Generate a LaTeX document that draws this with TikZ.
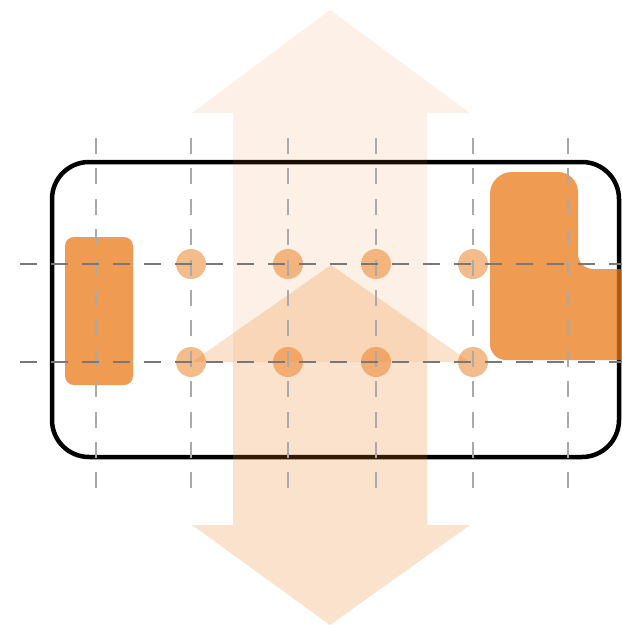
\documentclass[tikz,border=0pt]{standalone}
\definecolor{org}{RGB}{235,121,24}
\definecolor{vdash}{RGB}{170,170,170}
\definecolor{hdash}{RGB}{120,120,120}
\tikzset{
  frame/.style={line width=4.5, rounded corners=37},
  uparrow/.style={fill=org, fill opacity=0.11},
  downarrow/.style={fill=org, fill opacity=0.22},
  dot/.style={fill=org, fill opacity=0.5},
  block/.style={fill=org, fill opacity=0.75},
  vguide/.style={draw=vdash, line width=1.4, dash pattern=on 16 off 14.4},
  hguide/.style={draw=hdash, line width=1.3, dash pattern=on 17 off 14},
}
\begin{document}
\begin{tikzpicture}[x=1pt,y=-1pt]
\useasboundingbox (0,0) rectangle (622,625);
% frame
\draw[frame] (52,162) rectangle (619,457);
% arrows
\path[uparrow] (330,10) -- (470,113) -- (427,113) -- (427,362) -- (233,362) -- (233,113) -- (192,113) -- cycle;
\path[downarrow] (331,265) -- (470,362) -- (427,362) -- (427,525) -- (470,525) -- (330,625) -- (192,525) -- (233,525) -- (233,362) -- (192,362) -- cycle;
% dots
\foreach \x in {191,288,376,473}{
  \path[dot] (\x,264) circle[radius=15];
  \path[dot] (\x,362) circle[radius=15];
}
% blocks
\path[block, rounded corners=9] (65,237) rectangle (133,385);
\path[block] (490,194) arc(180:270:22) -- (558,172) arc(270:360:20) -- (578,254) arc(180:90:15) -- (622,269) -- (622,360) -- (506,360) arc(90:180:16) -- cycle;
% guides
\foreach \x in {96,191,288,376,473,568}{
  \draw[vguide] (\x,138) -- (\x,488);
}
\draw[hguide] (20,264) -- (622,264);
\draw[hguide] (20,362) -- (622,362);
\end{tikzpicture}
\end{document}
